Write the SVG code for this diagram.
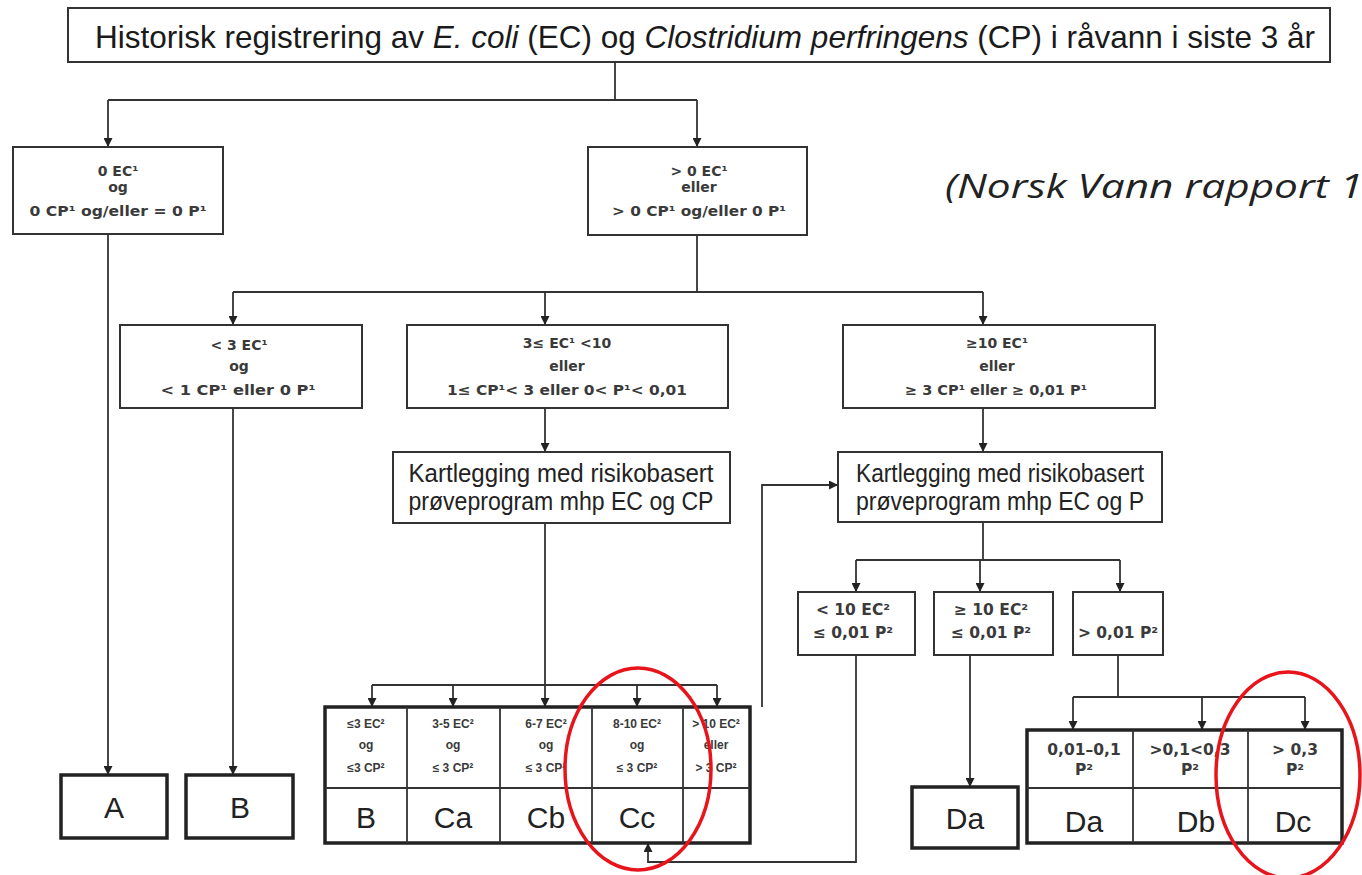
<svg xmlns="http://www.w3.org/2000/svg" width="1362" height="875" viewBox="0 0 1362 875">
<defs>
<marker id="ah" markerWidth="9" markerHeight="9" refX="9" refY="4.5" orient="auto" markerUnits="userSpaceOnUse">
<path d="M0,0 L9,4.5 L0,9 z" fill="#222"/>
</marker>
<style>
.box{fill:#fff;stroke:#333;stroke-width:2}
.tbl{fill:#fff;stroke:#222;stroke-width:3.5}
.div{stroke:#333;stroke-width:1.8;fill:none}
.cn{stroke:#333;stroke-width:1.8;fill:none}
.ar{stroke:#333;stroke-width:1.8;fill:none;marker-end:url(#ah)}
.s{font-family:"DejaVu Sans",sans-serif;font-size:14px;fill:#3a3a3a;text-anchor:middle;font-weight:bold}
.m{font-family:"DejaVu Sans",sans-serif;font-size:15.5px;fill:#3a3a3a;text-anchor:middle;font-weight:bold}
.xs{font-family:"Liberation Sans",Arial,sans-serif;font-size:12px;fill:#3a3a3a;text-anchor:middle;font-weight:bold}
.d{font-family:"DejaVu Sans",sans-serif;font-size:15.5px;fill:#3a3a3a;text-anchor:middle;font-weight:bold}
.k{font-family:"Liberation Sans",Arial,sans-serif;font-size:26px;fill:#222;text-anchor:middle}
.big{font-family:"Liberation Sans",Arial,sans-serif;font-size:30px;fill:#222;text-anchor:middle}
.ell{fill:none;stroke:#e8141b;stroke-width:3.5}
</style>
</defs>

<g id="connectors">
<path class="cn" d="M615,62 V100 M108,100 H697"/>
<path class="ar" d="M108,100 V147"/>
<path class="ar" d="M697,100 V147"/>
<path class="ar" d="M108,235 V775"/>
<path class="cn" d="M697,235 V292 M233,292 H983"/>
<path class="ar" d="M233,292 V325"/>
<path class="ar" d="M545,292 V325"/>
<path class="ar" d="M983,292 V325"/>
<path class="ar" d="M233,408 V775"/>
<path class="ar" d="M545,408 V452"/>
<path class="ar" d="M983,408 V452"/>
<path class="cn" d="M545,523 V685 M372,685 H717"/>
<path class="ar" d="M372,685 V707"/>
<path class="ar" d="M453,685 V707"/>
<path class="ar" d="M545,685 V707"/>
<path class="ar" d="M637,685 V707"/>
<path class="ar" d="M717,685 V707"/>
<path class="ar" d="M762,707 V485 H838"/>
<path class="cn" d="M983,522 V560 M856,560 H1120"/>
<path class="ar" d="M856,560 V592"/>
<path class="ar" d="M980,560 V592"/>
<path class="ar" d="M1120,560 V592"/>
<path class="ar" d="M970,655 V787"/>
<path class="cn" d="M1118,655 V697 M1073,697 H1305"/>
<path class="ar" d="M1073,697 V730"/>
<path class="ar" d="M1202,697 V730"/>
<path class="ar" d="M1305,697 V730"/>
<path class="ar" d="M856,655 V862 H648 V843"/>
</g>

<g id="title">
<rect class="box" x="68" y="8" width="1262" height="54" stroke-width="2.5"/>
<text x="705" y="48" font-family="'Liberation Sans',Arial,sans-serif" font-size="31.5" fill="#1a1a1a" text-anchor="middle">Historisk registrering av <tspan font-style="italic">E. coli</tspan> (EC) og <tspan font-style="italic">Clostridium perfringens</tspan> (CP) i råvann i siste 3 år</text>
</g>

<g id="n-zero">
<rect class="box" x="13" y="147" width="210" height="87"/>
<text class="s" x="118" y="176">0 EC¹</text>
<text class="s" x="118" y="192">og</text>
<text class="s" x="118" y="216" textLength="177" lengthAdjust="spacingAndGlyphs">0 CP¹ og/eller = 0 P¹</text>
</g>

<g id="n-gt0">
<rect class="box" x="588" y="147" width="219" height="88"/>
<text class="s" x="699" y="176">&gt; 0 EC¹</text>
<text class="s" x="699" y="192">eller</text>
<text class="s" x="699" y="216" textLength="174" lengthAdjust="spacingAndGlyphs">&gt; 0 CP¹ og/eller 0 P¹</text>
</g>

<g id="n-lt3">
<rect class="box" x="120" y="325" width="242" height="83"/>
<text class="s" x="239" y="350">&lt; 3 EC¹</text>
<text class="s" x="239" y="371">og</text>
<text class="s" x="238" y="395" textLength="155" lengthAdjust="spacingAndGlyphs">&lt; 1 CP¹ eller 0 P¹</text>
</g>

<g id="n-3to10">
<rect class="box" x="407" y="325" width="321" height="83"/>
<text class="s" x="567" y="348">3≤ EC¹ &lt;10</text>
<text class="s" x="567" y="371">eller</text>
<text class="s" x="567" y="395" textLength="240" lengthAdjust="spacingAndGlyphs">1≤ CP¹&lt; 3 eller  0&lt; P¹&lt; 0,01</text>
</g>

<g id="n-ge10">
<rect class="box" x="843" y="325" width="312" height="83"/>
<text class="s" x="997" y="348">≥10 EC¹</text>
<text class="s" x="997" y="371">eller</text>
<text class="s" x="996" y="395" textLength="182" lengthAdjust="spacingAndGlyphs">≥ 3 CP¹ eller ≥ 0,01 P¹</text>
</g>

<g id="n-kart1">
<rect class="box" x="393" y="452" width="337" height="71"/>
<text class="k" x="561" y="482" textLength="305" lengthAdjust="spacingAndGlyphs">Kartlegging med risikobasert</text>
<text class="k" x="561" y="510" textLength="305" lengthAdjust="spacingAndGlyphs">prøveprogram mhp EC og CP</text>
</g>

<g id="n-kart2">
<rect class="box" x="838" y="452" width="324" height="70"/>
<text class="k" x="1000" y="482" textLength="288" lengthAdjust="spacingAndGlyphs">Kartlegging med risikobasert</text>
<text class="k" x="1000" y="510" textLength="288" lengthAdjust="spacingAndGlyphs">prøveprogram mhp EC og P</text>
</g>

<g id="n-table-c">
<rect class="tbl" x="325" y="707" width="425" height="136"/>
<path class="div" d="M325,788 H750 M407,707 V843 M500,707 V843 M592,707 V843 M683,707 V843"/>
<text class="xs" x="366" y="728">≤3 EC²</text><text class="xs" x="366" y="749">og</text><text class="xs" x="366" y="772">≤3 CP²</text>
<text class="xs" x="453" y="728">3-5 EC²</text><text class="xs" x="453" y="749">og</text><text class="xs" x="453" y="772">≤ 3 CP²</text>
<text class="xs" x="546" y="728">6-7 EC²</text><text class="xs" x="546" y="749">og</text><text class="xs" x="546" y="772">≤ 3 CP²</text>
<text class="xs" x="637" y="728">8-10 EC²</text><text class="xs" x="637" y="749">og</text><text class="xs" x="637" y="772">≤ 3 CP²</text>
<text class="xs" x="716" y="728">&gt; 10 EC²</text><text class="xs" x="716" y="749">eller</text><text class="xs" x="716" y="772">&gt; 3 CP²</text>
<text class="big" x="366" y="828">B</text>
<text class="big" x="453" y="828">Ca</text>
<text class="big" x="546" y="828">Cb</text>
<text class="big" x="637" y="828">Cc</text>
</g>

<g id="n-lt10">
<rect class="box" x="798" y="592" width="117" height="63"/>
<text class="m" x="853" y="615">&lt; 10 EC²</text>
<text class="m" x="853" y="638">≤ 0,01 P²</text>
</g>

<g id="n-ge10b">
<rect class="box" x="934" y="592" width="119" height="63"/>
<text class="m" x="991" y="615">≥ 10 EC²</text>
<text class="m" x="991" y="638">≤ 0,01 P²</text>
</g>

<g id="n-gt001">
<rect class="box" x="1073" y="592" width="90" height="63"/>
<text class="m" x="1118" y="638">&gt; 0,01 P²</text>
</g>

<g id="n-da">
<rect class="tbl" x="912" y="787" width="106" height="61"/>
<text class="big" x="965" y="829">Da</text>
</g>

<g id="n-table-d">
<rect class="tbl" x="1027" y="730" width="315" height="113"/>
<path class="div" d="M1027,788 H1342 M1133,730 V843 M1248,730 V843"/>
<text class="d" x="1084" y="755">0,01–0,1</text><text class="d" x="1084" y="775">P²</text>
<text class="d" x="1190" y="755">&gt;0,1&lt;0,3</text><text class="d" x="1190" y="775">P²</text>
<text class="d" x="1295" y="755">&gt; 0,3</text><text class="d" x="1295" y="775">P²</text>
<text class="big" x="1084" y="832">Da</text>
<text class="big" x="1196" y="832">Db</text>
<text class="big" x="1293" y="832">Dc</text>
</g>

<g id="n-a">
<rect class="tbl" x="61" y="775" width="106" height="63"/>
<text class="big" x="114" y="818">A</text>
</g>

<g id="n-b">
<rect class="tbl" x="186" y="775" width="107" height="63"/>
<text class="big" x="240" y="818">B</text>
</g>

<g id="source">
<text x="945" y="198" font-family="'Open Sans','Liberation Sans',sans-serif" font-style="italic" font-size="32" fill="#222" textLength="418" lengthAdjust="spacingAndGlyphs">(Norsk Vann rapport 1</text>
</g>

<g id="highlights">
<ellipse class="ell" cx="638" cy="769" rx="73" ry="101"/>
<ellipse class="ell" cx="1288" cy="775" rx="72" ry="103"/>
</g>
</svg>
